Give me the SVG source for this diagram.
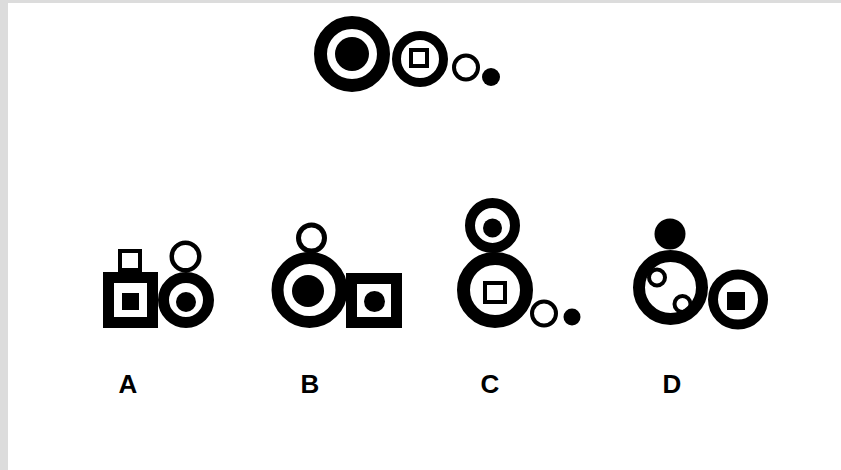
<svg xmlns="http://www.w3.org/2000/svg" width="841" height="470" viewBox="0 0 841 470">
<style>
.ring{fill:none;stroke:#000}
.dot{fill:#000}
.lbl{font-family:"Liberation Sans",Arial,sans-serif;font-weight:bold;font-size:26px;fill:#000;text-anchor:middle}
</style>
<rect x="0" y="0" width="841" height="470" fill="#fff"/>
<rect x="0" y="0" width="8" height="470" fill="#dcdcdc"/>
<rect x="0" y="0" width="841" height="3" fill="#dcdcdc"/>
<g id="question">
<circle class="ring" cx="352" cy="54" r="31.5" stroke-width="13"/>
<circle class="dot" cx="352" cy="54" r="17"/>
<circle class="ring" cx="420" cy="59" r="23.5" stroke-width="9"/>
<rect class="ring" x="411" y="50" width="16" height="16" stroke-width="4"/>
<circle class="ring" cx="466" cy="67.5" r="12" stroke-width="4"/>
<circle class="dot" cx="491" cy="77" r="9"/>
</g>
<g id="optionA">
<rect class="ring" x="120" y="251" width="20" height="19" stroke-width="4"/>
<rect class="ring" x="108.5" y="277.5" width="44" height="45" stroke-width="11"/>
<rect class="dot" x="122" y="293" width="17" height="17"/>
<circle class="ring" cx="186" cy="300" r="22.5" stroke-width="11"/>
<circle class="dot" cx="186" cy="302" r="10"/>
<circle class="ring" cx="185.5" cy="256.5" r="13.75" stroke-width="4.5"/>
<text class="lbl" x="128" y="393">A</text>
</g>
<g id="optionB">
<circle class="ring" cx="311.5" cy="238" r="13" stroke-width="5"/>
<circle class="ring" cx="309.5" cy="290" r="32" stroke-width="12"/>
<circle class="dot" cx="308" cy="291" r="16"/>
<rect class="ring" x="351.5" y="278.5" width="45" height="44" stroke-width="11"/>
<circle class="dot" cx="374.5" cy="301.5" r="10.5"/>
<text class="lbl" x="310" y="393">B</text>
</g>
<g id="optionC">
<circle class="ring" cx="492.5" cy="225.5" r="22.5" stroke-width="10"/>
<circle class="dot" cx="492.5" cy="228" r="9.5"/>
<circle class="ring" cx="495" cy="290" r="31.5" stroke-width="13"/>
<rect class="ring" x="485" y="283" width="20" height="19" stroke-width="4"/>
<circle class="ring" cx="544" cy="313.5" r="12" stroke-width="4"/>
<circle class="dot" cx="572" cy="317" r="8.5"/>
<text class="lbl" x="490" y="393">C</text>
</g>
<g id="optionD">
<circle class="dot" cx="670" cy="234" r="15.5"/>
<circle class="ring" cx="670.5" cy="287.5" r="31.5" stroke-width="12"/>
<circle class="ring" cx="657" cy="277.5" r="8" stroke-width="4"/>
<circle class="ring" cx="682.5" cy="304" r="8" stroke-width="4"/>
<circle class="ring" cx="738" cy="299.5" r="25" stroke-width="10"/>
<rect class="dot" x="727" y="292" width="18" height="18"/>
<text class="lbl" x="672" y="393">D</text>
</g>
</svg>
